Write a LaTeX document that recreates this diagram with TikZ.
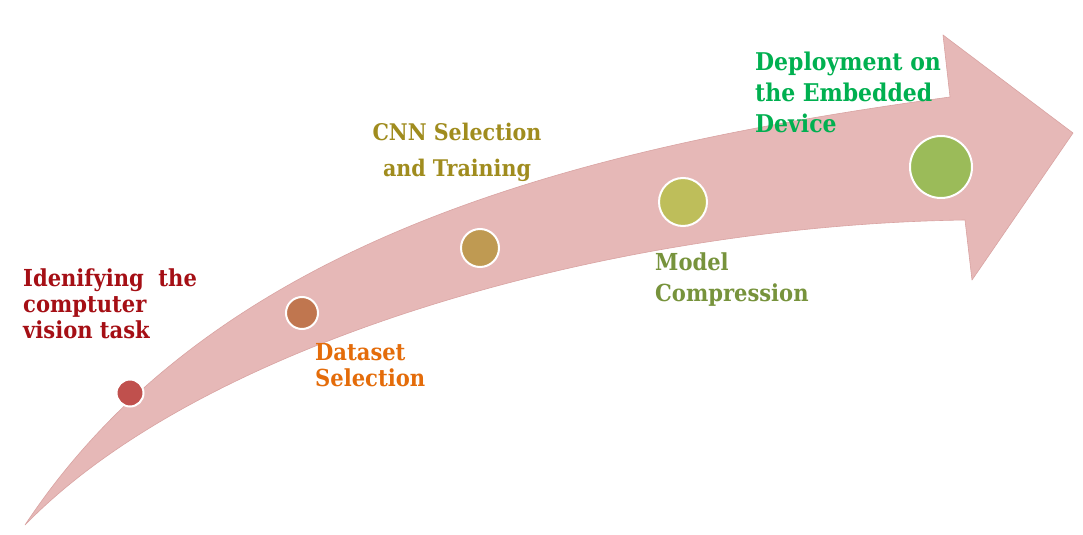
\documentclass[tikz,border=0pt]{standalone}
\usepackage{fontspec}
\setmainfont{DejaVu Serif Condensed}
\begin{document}
\begin{tikzpicture}[x=1bp,y=-1bp,
  band/.style={fill=bandpink,draw=bandedge,line width=0.6bp,line join=round},
  dot/.style={circle,draw=white,line width=2bp,inner sep=0pt},
  lab/.style={inner sep=0pt,align=left,anchor=base west},
]
\definecolor{bandpink}{HTML}{E6B8B7}
\definecolor{bandedge}{HTML}{D9A3A2}
\definecolor{c1}{HTML}{C0504D}
\definecolor{c2}{HTML}{C0764F}
\definecolor{c3}{HTML}{BF9A52}
\definecolor{c4}{HTML}{BEBE5A}
\definecolor{c5}{HTML}{9BBB59}
\definecolor{t1}{HTML}{A50F15}
\definecolor{t2}{HTML}{E46C0A}
\definecolor{t3}{HTML}{A08C1E}
\definecolor{t4}{HTML}{77933C}
\definecolor{t5}{HTML}{00B050}
\useasboundingbox (0,0) rectangle (1083,535);
\fill[white] (0,0) rectangle (1083,535);
% arrow
\coordinate (tail) at (25,525);
\coordinate (ui) at (950,97);
\coordinate (ub) at (943,35);
\coordinate (tip) at (1073,133);
\coordinate (lb) at (972,280);
\coordinate (li) at (965,220);
\draw[band] (tail) .. controls (220,230) and (600,145) .. (ui)
  -- (ub) -- (tip) -- (lb) -- (li)
  .. controls (615,225) and (205,340) .. (tail) -- cycle;
% dots
\node[dot,fill=c1,minimum size=27bp] (d1) at (130,393) {};
\node[dot,fill=c2,minimum size=32bp] (d2) at (302,313) {};
\node[dot,fill=c3,minimum size=38bp] (d3) at (480,248) {};
\node[dot,fill=c4,minimum size=48bp] (d4) at (683,202) {};
\node[dot,fill=c5,minimum size=62bp] (d5) at (941,167) {};
% labels (base anchor = baseline of last line)
\node[lab,text=t1,font=\fontsize{23.5}{26.5}\selectfont\bfseries] (l1) at (23,339) {Idenifying\ \ the\\comptuter\\vision task};
\node[lab,text=t2,font=\fontsize{23.5}{27}\selectfont\bfseries] (l2) at (315,387) {Dataset\\Selection};
\node[lab,text=t3,anchor=base,align=center,font=\fontsize{23}{37}\selectfont\bfseries] (l3) at (457,177) {CNN Selection\\and Training};
\node[lab,text=t4,font=\fontsize{23.5}{32}\selectfont\bfseries] (l4) at (655,302) {Model\\Compression};
\node[lab,text=t5,font=\fontsize{24.5}{31.5}\selectfont\bfseries] (l5) at (755,133) {Deployment on\\the Embedded\\Device};
\end{tikzpicture}
\end{document}
